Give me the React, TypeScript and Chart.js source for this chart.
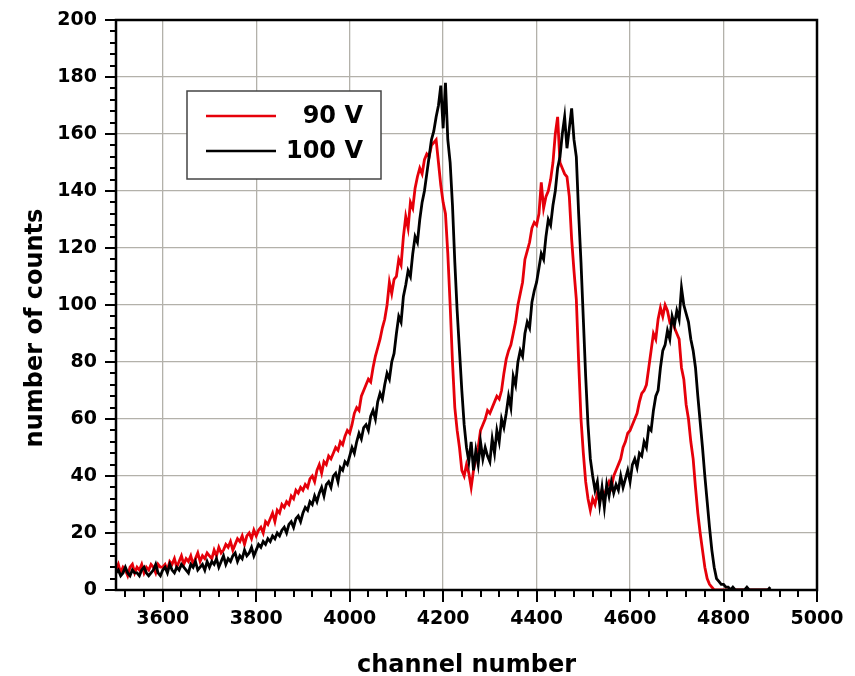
import React, { useEffect, useRef } from 'react';
import { Chart, registerables } from 'chart.js';

Chart.register(...registerables);

// ---- data ----
const CHANNELS = [
  3500, 3505, 3510, 3515, 3520, 3525, 3530, 3535, 3540, 3545, 3550, 3555, 3560, 3565, 3570, 3575, 3580, 3585, 3590, 3595,
  3600, 3605, 3610, 3615, 3620, 3625, 3630, 3635, 3640, 3645, 3650, 3655, 3660, 3665, 3670, 3675, 3680, 3685, 3690, 3695,
  3700, 3705, 3710, 3715, 3720, 3725, 3730, 3735, 3740, 3745, 3750, 3755, 3760, 3765, 3770, 3775, 3780, 3785, 3790, 3795,
  3800, 3805, 3810, 3815, 3820, 3825, 3830, 3835, 3840, 3845, 3850, 3855, 3860, 3865, 3870, 3875, 3880, 3885, 3890, 3895,
  3900, 3905, 3910, 3915, 3920, 3925, 3930, 3935, 3940, 3945, 3950, 3955, 3960, 3965, 3970, 3975, 3980, 3985, 3990, 3995,
  4000, 4005, 4010, 4015, 4020, 4025, 4030, 4035, 4040, 4045, 4050, 4055, 4060, 4065, 4070, 4075, 4080, 4085, 4090, 4095,
  4100, 4105, 4110, 4115, 4120, 4125, 4130, 4135, 4140, 4145, 4150, 4155, 4160, 4165, 4170, 4175, 4180, 4185, 4190, 4195,
  4200, 4205, 4210, 4215, 4220, 4225, 4230, 4235, 4240, 4245, 4250, 4255, 4260, 4265, 4270, 4275, 4280, 4285, 4290, 4295,
  4300, 4305, 4310, 4315, 4320, 4325, 4330, 4335, 4340, 4345, 4350, 4355, 4360, 4365, 4370, 4375, 4380, 4385, 4390, 4395,
  4400, 4405, 4410, 4415, 4420, 4425, 4430, 4435, 4440, 4445, 4450, 4455, 4460, 4465, 4470, 4475, 4480, 4485, 4490, 4495,
  4500, 4505, 4510, 4515, 4520, 4525, 4530, 4535, 4540, 4545, 4550, 4555, 4560, 4565, 4570, 4575, 4580, 4585, 4590, 4595,
  4600, 4605, 4610, 4615, 4620, 4625, 4630, 4635, 4640, 4645, 4650, 4655, 4660, 4665, 4670, 4675, 4680, 4685, 4690, 4695,
  4700, 4705, 4710, 4715, 4720, 4725, 4730, 4735, 4740, 4745, 4750, 4755, 4760, 4765, 4770, 4775, 4780, 4785, 4790, 4795,
  4800, 4805, 4810, 4815, 4820, 4825, 4830, 4835, 4840, 4845, 4850, 4855, 4860, 4865, 4870, 4875, 4880, 4885, 4890, 4895,
  4900,
];

const COUNTS_90V = [
  7, 9, 6, 8, 7, 5, 8, 9, 6, 8, 7, 9, 6, 8, 7, 9, 8, 6, 9, 8,
  8, 9, 7, 10, 9, 11, 8, 10, 12, 9, 11, 10, 12, 9, 11, 13, 10, 12, 11, 13,
  12, 11, 14, 12, 15, 13, 14, 16, 15, 17, 14, 16, 18, 17, 19, 16, 19, 20, 18, 21,
  19, 21, 22, 20, 24, 23, 25, 27, 24, 28, 27, 30, 29, 31, 30, 33, 32, 35, 34, 36,
  35, 37, 36, 39, 40, 38, 42, 44, 41, 45, 44, 47, 46, 48, 50, 49, 52, 51, 54, 56,
  55, 58, 62, 64, 63, 68, 70, 72, 74, 73, 78, 82, 85, 88, 92, 95, 100, 108, 104, 109,
  110, 116, 114, 124, 131, 127, 136, 134, 141, 145, 148, 146, 151, 153, 152, 156, 157, 158, 150, 142,
  136, 132, 118, 100, 80, 64, 56, 50, 42, 40, 44, 41, 36, 42, 46, 50, 56, 58, 60, 63,
  62, 64, 66, 68, 67, 70, 76, 81, 84, 86, 90, 94, 100, 104, 108, 116, 119, 122, 127, 129,
  128, 132, 143, 134, 138, 140, 144, 150, 160, 166, 150, 148, 146, 145, 138, 123, 112, 102, 80, 60,
  48, 38, 32, 28, 32, 30, 34, 31, 35, 33, 36, 38, 36, 40, 42, 44, 46, 50, 52, 55,
  56, 58, 60, 62, 66, 69, 70, 72, 78, 84, 90, 88, 95, 99, 96, 100, 98, 94, 95, 92,
  90, 88, 78, 74, 65, 60, 52, 46, 36, 27, 20, 14, 8, 4, 2, 1, 0, 0, 0, 0,
  0, 0, 0, 0, 0, 0, 0, 0, 0, 0, 0, 0, 0, 0, 0, 0, 0, 0, 0, 0,
  0,
];

const COUNTS_100V = [
  6, 7, 5, 6, 8, 6, 5, 7, 6, 6, 5, 7, 8, 6, 5, 6, 7, 9, 6, 5,
  7, 8, 6, 9, 7, 6, 8, 7, 9, 8, 7, 6, 9, 8, 10, 7, 8, 9, 7, 10,
  8, 10, 9, 11, 8, 10, 12, 9, 11, 10, 12, 13, 10, 12, 11, 14, 12, 13, 15, 12,
  14, 16, 15, 17, 16, 18, 17, 19, 18, 20, 19, 21, 22, 20, 23, 24, 22, 25, 26, 24,
  27, 29, 28, 31, 30, 33, 31, 34, 36, 33, 37, 38, 36, 40, 41, 38, 43, 42, 45, 44,
  47, 50, 48, 52, 55, 53, 57, 58, 56, 61, 63, 60, 66, 69, 67, 72, 76, 74, 80, 83,
  90, 96, 94, 103, 107, 112, 110, 118, 124, 122, 130, 136, 140, 146, 152, 158, 161, 166, 170, 177,
  162, 178, 158, 150, 135, 115, 98, 84, 70, 58, 50, 45, 52, 42, 49, 44, 52, 46, 50, 47,
  45, 53, 48, 56, 52, 60, 57, 62, 68, 64, 75, 72, 80, 84, 82, 90, 94, 92, 101, 105,
  108, 113, 118, 116, 124, 130, 128, 135, 140, 148, 152, 160, 166, 155, 162, 169, 158, 152, 132, 115,
  95, 75, 58, 46, 40, 35, 38, 30, 36, 29, 37, 33, 38, 34, 37, 35, 40, 36, 39, 42,
  38, 44, 46, 43, 48, 47, 52, 50, 57, 56, 63, 68, 70, 78, 84, 86, 91, 88, 96, 93,
  98, 95, 106, 100, 97, 94, 88, 84, 78, 68, 59, 50, 40, 31, 22, 14, 8, 4, 3, 2,
  2, 1, 1, 0, 1, 0, 0, 0, 0, 0, 1, 0, 0, 0, 0, 0, 0, 0, 0, 0,
  1,
];

const SERIES_LABELS = ['90 V', '100 V'];
const SERIES_COLORS = ['#e6000a', '#000000'];
const X_TICKS = [3600, 3800, 4000, 4200, 4400, 4600, 4800, 5000];
const Y_TICKS = [0, 20, 40, 60, 80, 100, 120, 140, 160, 180, 200];
const X_RANGE = [3500, 5000];
const Y_RANGE = [0, 200];
const X_MINOR_STEP = 40;
const Y_MINOR_STEP = 4;
const X_TITLE = 'channel number';
const Y_TITLE = 'number of counts';

const FONT = 'DejaVu Sans';

const decorPlugin = {
  id: 'decor',
  afterDraw(chart: any) {
    const { ctx, chartArea: a, scales } = chart;
    const xs = scales.x;
    const ys = scales.y;
    ctx.save();
    // tick marks (major + minor), outward
    ctx.strokeStyle = '#000';
    ctx.lineWidth = 2;
    ctx.beginPath();
    for (let v = Math.ceil(xs.min / X_MINOR_STEP) * X_MINOR_STEP; v <= xs.max; v += X_MINOR_STEP) {
      const px = Math.round(xs.getPixelForValue(v));
      const len = X_TICKS.includes(v) ? 12 : 7;
      ctx.moveTo(px, a.bottom);
      ctx.lineTo(px, a.bottom + len);
    }
    for (let v = ys.min; v <= ys.max; v += Y_MINOR_STEP) {
      const py = Math.round(ys.getPixelForValue(v));
      const len = Y_TICKS.includes(v) ? 11 : 6;
      ctx.moveTo(a.left, py);
      ctx.lineTo(a.left - len, py);
    }
    ctx.stroke();
    // frame
    ctx.lineWidth = 2.5;
    ctx.strokeRect(a.left, a.top, a.right - a.left, a.bottom - a.top);

    // legend box
    const lx = a.left + 71;
    const ly = a.top + 71;
    const lw = 194;
    const lh = 88;
    ctx.fillStyle = '#fff';
    ctx.fillRect(lx, ly, lw, lh);
    ctx.strokeStyle = '#444';
    ctx.lineWidth = 1.5;
    ctx.strokeRect(lx, ly, lw, lh);
    ctx.font = `bold 24px "${FONT}"`;
    ctx.textAlign = 'right';
    ctx.textBaseline = 'middle';
    SERIES_LABELS.forEach((lab, i) => {
      const yy = ly + 25 + i * 35;
      ctx.strokeStyle = SERIES_COLORS[i];
      ctx.lineWidth = 2.5;
      ctx.beginPath();
      ctx.moveTo(lx + 19, yy);
      ctx.lineTo(lx + 89, yy);
      ctx.stroke();
      ctx.fillStyle = '#000';
      ctx.fillText(lab, lx + 176, yy + 1);
    });

    // axis titles
    ctx.fillStyle = '#000';
    ctx.font = `bold 24px "${FONT}"`;
    ctx.textAlign = 'center';
    ctx.textBaseline = 'alphabetic';
    ctx.fillText(X_TITLE, (a.left + a.right) / 2, 672);
    ctx.save();
    ctx.translate(42, 328);
    ctx.rotate(-Math.PI / 2);
    ctx.fillText(Y_TITLE, 0, 0);
    ctx.restore();
    ctx.restore();
  },
};

const zeroPad = (s: any) => {
  s.paddingTop = 0;
  s.paddingBottom = 0;
  s.paddingLeft = 0;
  s.paddingRight = 0;
};

export default function App() {
  const ref = useRef<HTMLCanvasElement | null>(null);
  useEffect(() => {
    if (!ref.current) return;
    const mk = (vals: number[]) => CHANNELS.map((c, i) => ({ x: c, y: vals[i] }));
    const chart = new Chart(ref.current, {
      type: 'line',
      data: {
        datasets: [
          {
            label: SERIES_LABELS[0],
            data: mk(COUNTS_90V),
            borderColor: SERIES_COLORS[0],
            borderWidth: 2.8,
            pointRadius: 0,
            tension: 0,
            fill: false,
            order: 1,
          },
          {
            label: SERIES_LABELS[1],
            data: mk(COUNTS_100V),
            borderColor: SERIES_COLORS[1],
            borderWidth: 2.8,
            pointRadius: 0,
            tension: 0,
            fill: false,
            order: 0,
          },
        ],
      },
      options: {
        responsive: false,
        animation: false,
        devicePixelRatio: 1,
        layout: { padding: { left: 0, top: 20, right: 38, bottom: 0 } },
        plugins: { legend: { display: false }, tooltip: { enabled: false } },
        scales: {
          x: {
            type: 'linear',
            min: X_RANGE[0],
            max: X_RANGE[1],
            afterBuildTicks: (s: any) => {
              s.ticks = X_TICKS.map((v) => ({ value: v }));
            },
            afterFit: (s: any) => {
              s.height = 86;
              zeroPad(s);
            },
            grid: { color: '#b3b1aa', lineWidth: 1.3, drawTicks: false },
            border: { display: false },
            ticks: {
              padding: 18,
              maxRotation: 0,
              color: '#000',
              font: { family: FONT, size: 19, weight: 'bold' },
              callback: (v: any) => String(v),
            },
          },
          y: {
            type: 'linear',
            min: Y_RANGE[0],
            max: Y_RANGE[1],
            afterBuildTicks: (s: any) => {
              s.ticks = Y_TICKS.map((v) => ({ value: v }));
            },
            afterFit: (s: any) => {
              s.width = 116;
              zeroPad(s);
            },
            grid: { color: '#b3b1aa', lineWidth: 1.3, drawTicks: false },
            border: { display: false },
            ticks: {
              padding: 19,
              color: '#000',
              font: { family: FONT, size: 19, weight: 'bold' },
              callback: (v: any) => String(v),
            },
          },
        },
      },
      plugins: [decorPlugin],
    } as any);
    return () => chart.destroy();
  }, []);
  return (
    <div style={{ position: 'absolute', left: 0, top: 0, width: 855, height: 676, background: '#fff' }}>
      <canvas ref={ref} width={855} height={676} style={{ display: 'block' }} />
    </div>
  );
}
